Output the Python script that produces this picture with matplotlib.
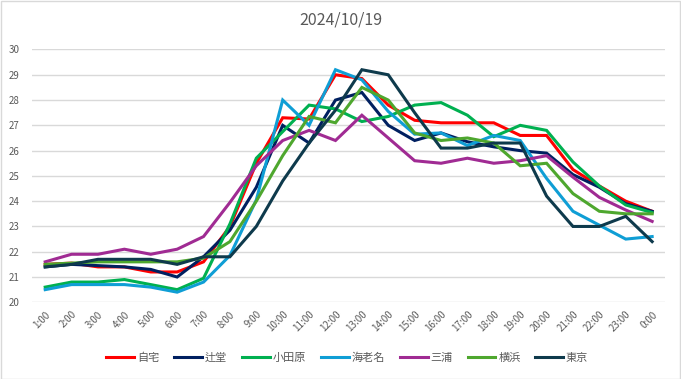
import matplotlib
matplotlib.use('Agg')
import matplotlib.pyplot as plt

plt.rcParams['font.family'] = ['Noto Sans CJK JP', 'DejaVu Sans']

hours = ['1:00', '2:00', '3:00', '4:00', '5:00', '6:00', '7:00', '8:00', '9:00', '10:00',
         '11:00', '12:00', '13:00', '14:00', '15:00', '16:00', '17:00', '18:00', '19:00',
         '20:00', '21:00', '22:00', '23:00', '0:00']

jitaku = [21.5, 21.55, 21.4, 21.4, 21.2, 21.2, 21.6, 23.0, 25.5, 27.3, 27.25, 29.0,
          28.85, 27.8, 27.2, 27.1, 27.1, 27.1, 26.6, 26.6, 25.25, 24.6, 24.0, 23.6]
tsujido = [21.4, 21.5, 21.45, 21.4, 21.3, 21.0, 21.8, 22.85, 24.55, 27.0, 26.3, 28.0,
           28.3, 27.0, 26.4, 26.7, 26.35, 26.15, 26.0, 25.9, 25.05, 24.55, 23.9, 23.6]
odawara = [20.6, 20.8, 20.8, 20.9, 20.7, 20.5, 20.95, 23.1, 25.7, 26.75, 27.8, 27.65,
           27.15, 27.35, 27.8, 27.9, 27.4, 26.55, 27.0, 26.8, 25.55, 24.6, 23.85, 23.55]
ebina = [20.5, 20.7, 20.7, 20.7, 20.6, 20.4, 20.8, 21.85, 24.05, 28.0, 27.0, 29.2,
         28.8, 27.55, 26.65, 26.7, 26.2, 26.6, 26.4, 24.9, 23.6, 23.05, 22.5, 22.6]
miura = [21.6, 21.9, 21.9, 22.1, 21.9, 22.1, 22.6, 23.95, 25.4, 26.4, 26.8, 26.4,
         27.4, 26.5, 25.6, 25.5, 25.7, 25.5, 25.6, 25.8, 24.95, 24.15, 23.65, 23.2]
yokohama = [21.5, 21.55, 21.6, 21.6, 21.6, 21.6, 21.75, 22.4, 24.0, 25.8, 27.35, 27.1,
            28.5, 28.0, 26.7, 26.4, 26.5, 26.3, 25.4, 25.5, 24.3, 23.6, 23.5, 23.5]
tokyo = [21.4, 21.5, 21.7, 21.7, 21.7, 21.5, 21.8, 21.8, 23.0, 24.8, 26.3, 27.6,
         29.2, 29.0, 27.5, 26.1, 26.1, 26.3, 26.3, 24.2, 23.0, 23.0, 23.4, 22.4]

names = ['自宅', '辻堂', '小田原', '海老名', '三浦', '横浜', '東京']
series = [jitaku, tsujido, odawara, ebina, miura, yokohama, tokyo]
colors = ['#FF0000', '#002060', '#00B050', '#0F9ED5', '#A02B93', '#4EA72E', '#0E3A4C']

fig = plt.figure(figsize=(6.81, 3.79), dpi=100)
ax = fig.add_axes([0.047, 0.2024, 0.930, 0.667])

x = list(range(len(hours)))
for name, vals, c in zip(names, series, colors):
    ax.plot(x, vals, color=c, lw=2.2, label=name, solid_joinstyle='miter')

ax.set_xlim(-0.5, len(hours) - 0.5)
ax.set_ylim(20, 30)
ax.set_yticks(range(20, 31))
ax.set_xticks(x)
ax.set_xticklabels(hours, rotation=45, ha='right', rotation_mode='anchor')
ax.tick_params(axis='both', length=0, labelsize=7, colors='#595959')
ax.tick_params(axis='y', pad=9)
ax.tick_params(axis='x', pad=5)
ax.grid(axis='y', color='#D9D9D9', lw=1)
ax.set_axisbelow(True)
for s in ax.spines.values():
    s.set_visible(False)

fig.text(0.5, 0.947, '2024/10/19', ha='center', va='center', fontsize=11.5, color='#595959')

fig.legend(loc='center', bbox_to_anchor=(0.51, 0.055), ncol=7, frameon=False,
           fontsize=8, handlelength=2.5, handletextpad=0.25, columnspacing=1.35,
           labelcolor='#595959')

# light border round the whole chart
fig.patches.append(plt.Rectangle((0.001, 0.001), 0.998, 0.996, transform=fig.transFigure,
                                 fill=False, edgecolor='#D9D9D9', lw=1))

fig.savefig('out.png', dpi=100)
